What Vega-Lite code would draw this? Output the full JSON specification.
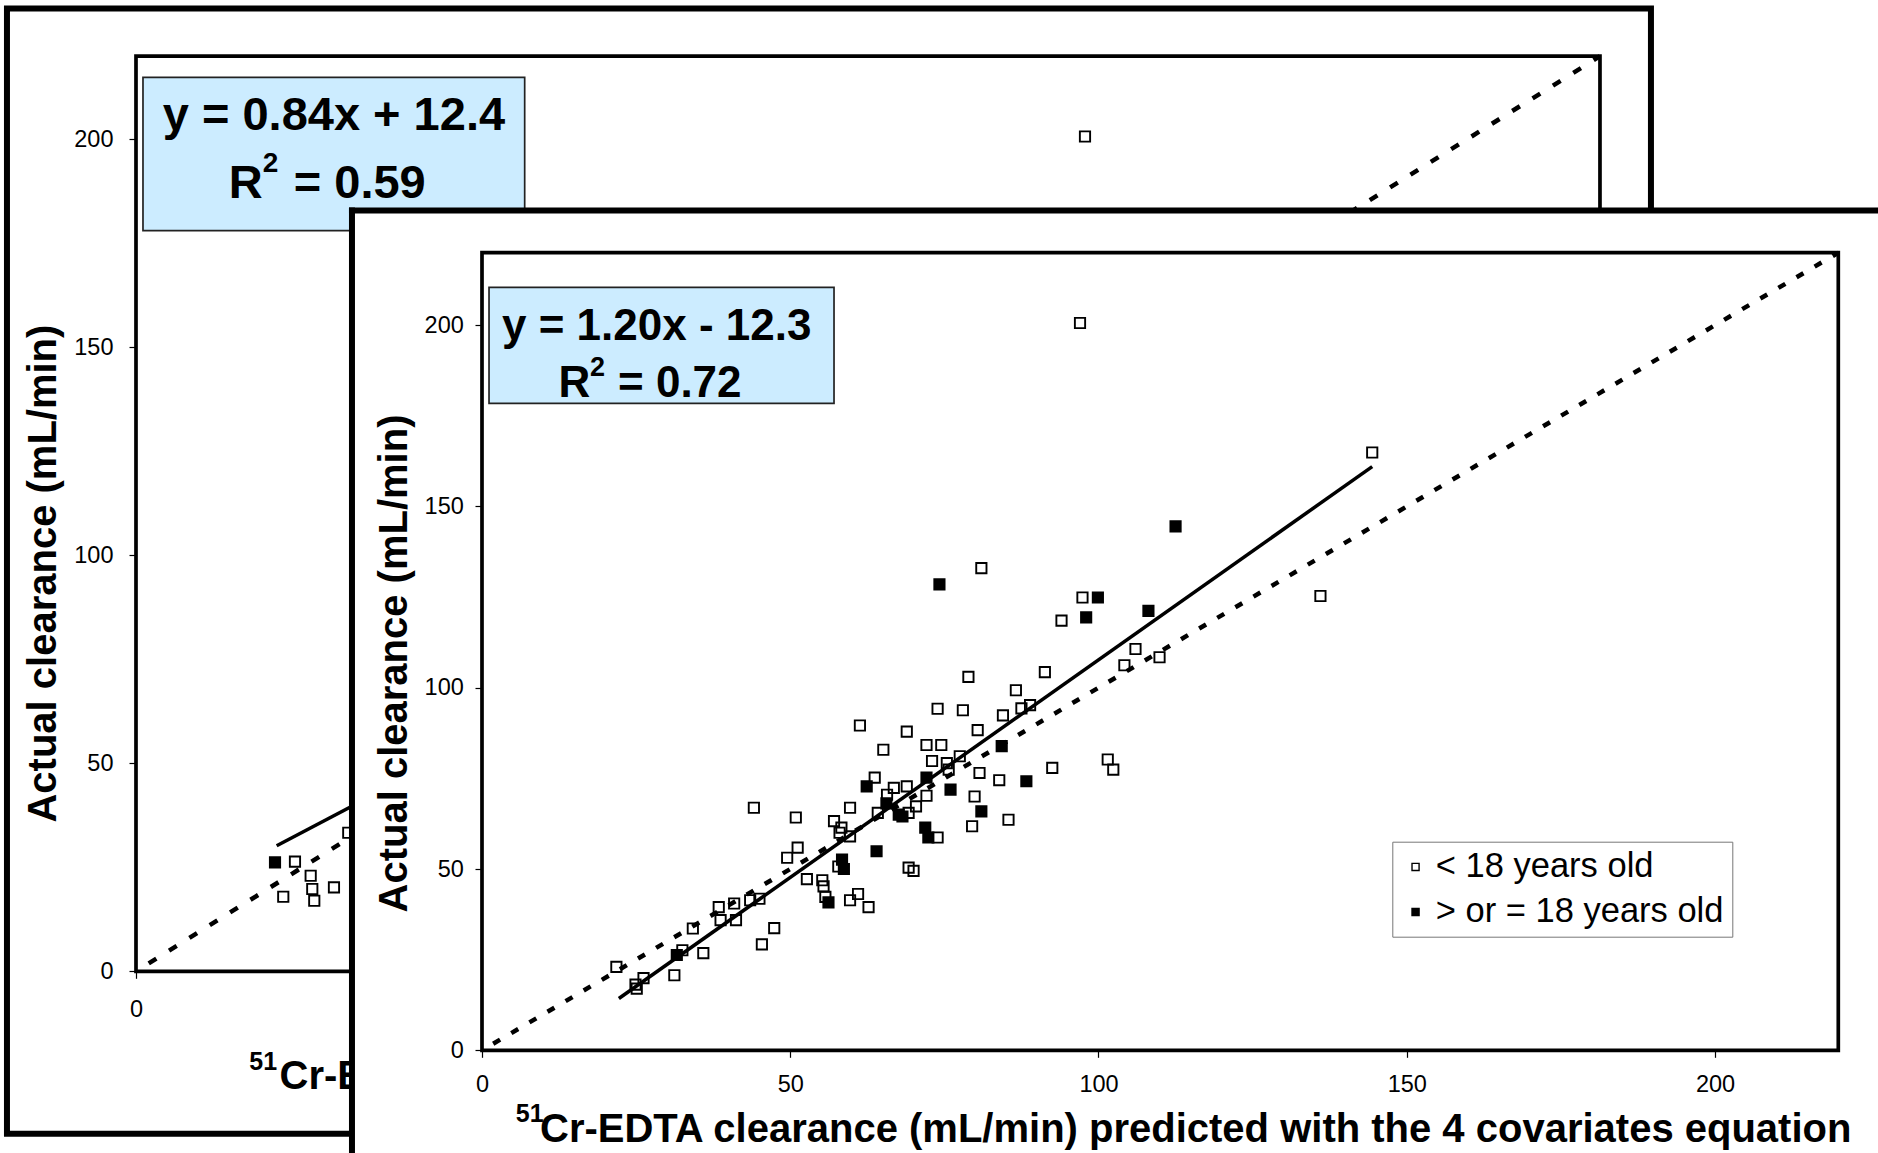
{
  "$schema": "https://vega.github.io/schema/vega-lite/v6.json",
  "background": "white",
  "padding": 0,
  "autosize": {"type": "none"},
  "width": 1878,
  "height": 1153,
  "resolve": {"scale": {"x": "independent", "y": "independent", "fill": "independent"}, "axis": {"x": "independent", "y": "independent"}, "legend": {"fill": "independent"}},
  "datasets": {
    "back_pts": [
      {"x": 20.89, "y": 26.2, "age": "> or = 18 years old"},
      {"x": 23.89, "y": 26.35, "age": "< 18 years old"},
      {"x": 22.13, "y": 17.93, "age": "< 18 years old"},
      {"x": 26.25, "y": 22.98, "age": "< 18 years old"},
      {"x": 26.49, "y": 19.79, "age": "< 18 years old"},
      {"x": 26.79, "y": 16.97, "age": "< 18 years old"},
      {"x": 29.75, "y": 20.19, "age": "< 18 years old"},
      {"x": 31.9, "y": 33.32, "age": "< 18 years old"},
      {"x": 142.61, "y": 200.7, "age": "< 18 years old"}
    ],
    "back_fit": [{"x": 21.14, "y": 30.2}, {"x": 165, "y": 151.0}],
    "front_fit": [{"x": 22.2, "y": 14.3}, {"x": 144.4, "y": 161.0}],
    "identity": [{"x": 0, "y": 0}, {"x": 220, "y": 220}],
    "front_pts": [
      {"x": 21.8, "y": 23.0, "age": "< 18 years old"},
      {"x": 24.9, "y": 18.1, "age": "< 18 years old"},
      {"x": 25.1, "y": 17.0, "age": "< 18 years old"},
      {"x": 26.2, "y": 19.9, "age": "< 18 years old"},
      {"x": 31.2, "y": 20.7, "age": "< 18 years old"},
      {"x": 32.5, "y": 27.6, "age": "< 18 years old"},
      {"x": 35.9, "y": 26.8, "age": "< 18 years old"},
      {"x": 34.2, "y": 33.6, "age": "< 18 years old"},
      {"x": 38.4, "y": 39.5, "age": "< 18 years old"},
      {"x": 38.7, "y": 35.9, "age": "< 18 years old"},
      {"x": 40.9, "y": 40.5, "age": "< 18 years old"},
      {"x": 41.2, "y": 35.9, "age": "< 18 years old"},
      {"x": 43.5, "y": 41.4, "age": "< 18 years old"},
      {"x": 45.0, "y": 41.8, "age": "< 18 years old"},
      {"x": 45.4, "y": 29.2, "age": "< 18 years old"},
      {"x": 47.4, "y": 33.7, "age": "< 18 years old"},
      {"x": 44.1, "y": 66.9, "age": "< 18 years old"},
      {"x": 50.9, "y": 64.2, "age": "< 18 years old"},
      {"x": 49.5, "y": 53.1, "age": "< 18 years old"},
      {"x": 51.2, "y": 55.9, "age": "< 18 years old"},
      {"x": 52.7, "y": 47.2, "age": "< 18 years old"},
      {"x": 55.2, "y": 46.9, "age": "< 18 years old"},
      {"x": 55.4, "y": 45.2, "age": "< 18 years old"},
      {"x": 55.7, "y": 42.3, "age": "< 18 years old"},
      {"x": 59.7, "y": 41.4, "age": "< 18 years old"},
      {"x": 61.0, "y": 43.1, "age": "< 18 years old"},
      {"x": 62.7, "y": 39.5, "age": "< 18 years old"},
      {"x": 57.1, "y": 63.2, "age": "< 18 years old"},
      {"x": 59.7, "y": 66.9, "age": "< 18 years old"},
      {"x": 58.3, "y": 61.4, "age": "< 18 years old"},
      {"x": 58.0, "y": 60.0, "age": "< 18 years old"},
      {"x": 59.7, "y": 59.0, "age": "< 18 years old"},
      {"x": 57.8, "y": 50.7, "age": "< 18 years old"},
      {"x": 69.2, "y": 50.4, "age": "< 18 years old"},
      {"x": 70.0, "y": 49.5, "age": "< 18 years old"},
      {"x": 73.9, "y": 58.7, "age": "< 18 years old"},
      {"x": 79.5, "y": 61.8, "age": "< 18 years old"},
      {"x": 85.4, "y": 63.6, "age": "< 18 years old"},
      {"x": 79.9, "y": 70.0, "age": "< 18 years old"},
      {"x": 72.1, "y": 70.2, "age": "< 18 years old"},
      {"x": 70.4, "y": 67.3, "age": "< 18 years old"},
      {"x": 69.2, "y": 65.5, "age": "< 18 years old"},
      {"x": 64.2, "y": 65.5, "age": "< 18 years old"},
      {"x": 65.7, "y": 70.5, "age": "< 18 years old"},
      {"x": 66.8, "y": 72.4, "age": "< 18 years old"},
      {"x": 68.9, "y": 72.8, "age": "< 18 years old"},
      {"x": 63.7, "y": 75.2, "age": "< 18 years old"},
      {"x": 83.9, "y": 74.5, "age": "< 18 years old"},
      {"x": 80.7, "y": 76.5, "age": "< 18 years old"},
      {"x": 73.0, "y": 79.8, "age": "< 18 years old"},
      {"x": 75.4, "y": 79.2, "age": "< 18 years old"},
      {"x": 75.7, "y": 77.4, "age": "< 18 years old"},
      {"x": 77.5, "y": 81.1, "age": "< 18 years old"},
      {"x": 92.5, "y": 77.9, "age": "< 18 years old"},
      {"x": 101.5, "y": 80.2, "age": "< 18 years old"},
      {"x": 102.4, "y": 77.4, "age": "< 18 years old"},
      {"x": 65.1, "y": 82.9, "age": "< 18 years old"},
      {"x": 72.1, "y": 84.2, "age": "< 18 years old"},
      {"x": 74.5, "y": 84.2, "age": "< 18 years old"},
      {"x": 68.9, "y": 87.9, "age": "< 18 years old"},
      {"x": 80.4, "y": 88.3, "age": "< 18 years old"},
      {"x": 61.3, "y": 89.6, "age": "< 18 years old"},
      {"x": 73.9, "y": 94.2, "age": "< 18 years old"},
      {"x": 78.0, "y": 93.8, "age": "< 18 years old"},
      {"x": 84.5, "y": 92.4, "age": "< 18 years old"},
      {"x": 87.5, "y": 94.3, "age": "< 18 years old"},
      {"x": 88.9, "y": 95.2, "age": "< 18 years old"},
      {"x": 78.9, "y": 103.0, "age": "< 18 years old"},
      {"x": 86.6, "y": 99.3, "age": "< 18 years old"},
      {"x": 91.3, "y": 104.3, "age": "< 18 years old"},
      {"x": 94.0, "y": 118.5, "age": "< 18 years old"},
      {"x": 97.4, "y": 124.9, "age": "< 18 years old"},
      {"x": 81.0, "y": 133.0, "age": "< 18 years old"},
      {"x": 104.2, "y": 106.2, "age": "< 18 years old"},
      {"x": 106.0, "y": 110.7, "age": "< 18 years old"},
      {"x": 109.9, "y": 108.4, "age": "< 18 years old"},
      {"x": 136.0, "y": 125.3, "age": "< 18 years old"},
      {"x": 144.4, "y": 164.9, "age": "< 18 years old"},
      {"x": 97.0, "y": 200.6, "age": "< 18 years old"},
      {"x": 31.6, "y": 26.3, "age": "> or = 18 years old"},
      {"x": 56.2, "y": 40.8, "age": "> or = 18 years old"},
      {"x": 58.4, "y": 52.6, "age": "> or = 18 years old"},
      {"x": 58.7, "y": 50.0, "age": "> or = 18 years old"},
      {"x": 64.0, "y": 54.9, "age": "> or = 18 years old"},
      {"x": 71.9, "y": 61.4, "age": "> or = 18 years old"},
      {"x": 72.4, "y": 58.7, "age": "> or = 18 years old"},
      {"x": 81.0, "y": 65.9, "age": "> or = 18 years old"},
      {"x": 76.0, "y": 71.9, "age": "> or = 18 years old"},
      {"x": 67.6, "y": 65.0, "age": "> or = 18 years old"},
      {"x": 68.2, "y": 64.5, "age": "> or = 18 years old"},
      {"x": 65.6, "y": 68.1, "age": "> or = 18 years old"},
      {"x": 62.4, "y": 72.8, "age": "> or = 18 years old"},
      {"x": 72.1, "y": 75.2, "age": "> or = 18 years old"},
      {"x": 88.3, "y": 74.2, "age": "> or = 18 years old"},
      {"x": 84.3, "y": 83.9, "age": "> or = 18 years old"},
      {"x": 98.0, "y": 119.4, "age": "> or = 18 years old"},
      {"x": 99.9, "y": 124.9, "age": "> or = 18 years old"},
      {"x": 108.1, "y": 121.2, "age": "> or = 18 years old"},
      {"x": 74.2, "y": 128.5, "age": "> or = 18 years old"},
      {"x": 112.5, "y": 144.5, "age": "> or = 18 years old"}
    ]
  },
  "layer": [
    {
      "data": {"values": [{}]},
      "mark": {"type": "rect", "fill": "transparent", "stroke": "black", "strokeWidth": 6},
      "encoding": {
        "x": {"datum": -19.39, "type": "quantitative", "scale": {"domain": [-20.437, 261.78], "nice": false, "zero": false}, "axis": null},
        "x2": {"datum": 227.66},
        "y": {"datum": 231.47, "type": "quantitative", "scale": {"domain": [-43.683, 233.51], "nice": false, "zero": false}, "axis": null},
        "y2": {"datum": -39.04}
      }
    },
    {
      "data": {"values": [{}]},
      "mark": {"type": "rect", "fill": "transparent", "stroke": "black", "strokeWidth": 3.7},
      "encoding": {
        "x": {"datum": 0, "type": "quantitative", "scale": {"domain": [-20.437, 261.78], "nice": false, "zero": false}, "axis": null},
        "x2": {"datum": 220},
        "y": {"datum": 0, "type": "quantitative", "scale": {"domain": [-43.683, 233.51], "nice": false, "zero": false}, "axis": null},
        "y2": {"datum": 220}
      }
    },
    {
      "data": {"name": "identity"},
      "mark": {"type": "line", "stroke": "black", "strokeWidth": 4.5, "strokeDash": [9, 15], "strokeDashOffset": 9},
      "encoding": {
        "x": {"field": "x", "type": "quantitative", "scale": {"domain": [-20.437, 261.78], "nice": false, "zero": false}, "axis": null},
        "y": {"field": "y", "type": "quantitative", "scale": {"domain": [-43.683, 233.51], "nice": false, "zero": false}, "axis": null}
      }
    },
    {
      "data": {"name": "back_fit"},
      "mark": {"type": "line", "stroke": "black", "strokeWidth": 3.5},
      "encoding": {
        "x": {"field": "x", "type": "quantitative", "scale": {"domain": [-20.437, 261.78], "nice": false, "zero": false}, "axis": null},
        "y": {"field": "y", "type": "quantitative", "scale": {"domain": [-43.683, 233.51], "nice": false, "zero": false}, "axis": null}
      }
    },
    {
      "data": {"values": [{}]},
      "mark": {"type": "rect", "fill": "#CCECFF", "stroke": "#222222", "strokeWidth": 1.7},
      "encoding": {
        "x": {"datum": 1.05, "type": "quantitative", "scale": {"domain": [-20.437, 261.78], "nice": false, "zero": false}, "axis": null},
        "x2": {"datum": 58.41},
        "y": {"datum": 214.93, "type": "quantitative", "scale": {"domain": [-43.683, 233.51], "nice": false, "zero": false}, "axis": null},
        "y2": {"datum": 178.05}
      }
    },
    {
      "data": {"values": [{"label": "y = 0.84x + 12.4"}]},
      "mark": {"type": "text", "font": "Liberation Sans", "fontSize": 47, "fontWeight": "bold", "align": "center", "baseline": "alphabetic", "color": "black"},
      "encoding": {
        "x": {"datum": 29.74, "type": "quantitative", "scale": {"domain": [-20.437, 261.78], "nice": false, "zero": false}, "axis": null},
        "y": {"datum": 202.26, "type": "quantitative", "scale": {"domain": [-43.683, 233.51], "nice": false, "zero": false}, "axis": null},
        "text": {"field": "label"}
      }
    },
    {
      "data": {"values": [{"label": "R"}]},
      "mark": {"type": "text", "font": "Liberation Sans", "fontSize": 47, "fontWeight": "bold", "align": "left", "baseline": "alphabetic", "color": "black"},
      "encoding": {
        "x": {"datum": 13.95, "type": "quantitative", "scale": {"domain": [-20.437, 261.78], "nice": false, "zero": false}, "axis": null},
        "y": {"datum": 185.84, "type": "quantitative", "scale": {"domain": [-43.683, 233.51], "nice": false, "zero": false}, "axis": null},
        "text": {"field": "label"}
      }
    },
    {
      "data": {"values": [{"label": "2"}]},
      "mark": {"type": "text", "font": "Liberation Sans", "fontSize": 28, "fontWeight": "bold", "align": "left", "baseline": "alphabetic", "color": "black"},
      "encoding": {
        "x": {"datum": 19.05, "type": "quantitative", "scale": {"domain": [-20.437, 261.78], "nice": false, "zero": false}, "axis": null},
        "y": {"datum": 192.1, "type": "quantitative", "scale": {"domain": [-43.683, 233.51], "nice": false, "zero": false}, "axis": null},
        "text": {"field": "label"}
      }
    },
    {
      "data": {"values": [{"label": "= 0.59"}]},
      "mark": {"type": "text", "font": "Liberation Sans", "fontSize": 47, "fontWeight": "bold", "align": "left", "baseline": "alphabetic", "color": "black"},
      "encoding": {
        "x": {"datum": 23.71, "type": "quantitative", "scale": {"domain": [-20.437, 261.78], "nice": false, "zero": false}, "axis": null},
        "y": {"datum": 185.84, "type": "quantitative", "scale": {"domain": [-43.683, 233.51], "nice": false, "zero": false}, "axis": null},
        "text": {"field": "label"}
      }
    },
    {
      "data": {"values": [{"label": "51"}]},
      "mark": {"type": "text", "font": "Liberation Sans", "fontSize": 25, "fontWeight": "bold", "align": "left", "baseline": "alphabetic", "color": "black"},
      "encoding": {
        "x": {"datum": 17.03, "type": "quantitative", "scale": {"domain": [-20.437, 261.78], "nice": false, "zero": false}, "axis": null},
        "y": {"datum": -23.73, "type": "quantitative", "scale": {"domain": [-43.683, 233.51], "nice": false, "zero": false}, "axis": null},
        "text": {"field": "label"}
      }
    },
    {
      "data": {"name": "back_pts"},
      "mark": {"type": "square", "size": 105, "stroke": "black", "strokeWidth": 1.9, "opacity": 1, "fillOpacity": 1},
      "encoding": {
        "x": {"field": "x", "type": "quantitative", "scale": {"domain": [-20.437, 261.78], "nice": false, "zero": false},
          "axis": {"orient": "bottom", "offset": -181.7, "zindex": 0, "values": [0, 50, 100, 150, 200], "title": "Cr-EDTA clearance (mL/min)", "titleAlign": "left", "titleAngle": 0, "titleBaseline": "alphabetic", "titleX": 279, "titleY": 116.7, "labelBaseline": "alphabetic", "labelPadding": 38.4}},
        "y": {"field": "y", "type": "quantitative", "scale": {"domain": [-43.683, 233.51], "nice": false, "zero": false},
          "axis": {"orient": "left", "offset": -136, "zindex": 0, "values": [0, 50, 100, 150, 200], "title": "Actual clearance (mL/min)", "titleAlign": "center", "titleAngle": 270, "titleBaseline": "alphabetic", "titleX": -81, "titleY": 573.1, "labelPadding": 16, "labelBaseline": "middle"}},
        "fill": {"field": "age", "type": "nominal", "scale": {"domain": ["< 18 years old", "> or = 18 years old"], "range": ["transparent", "black"]}, "legend": null}
      }
    },
    {
      "data": {"values": [{}]},
      "mark": {"type": "rect", "fill": "white", "strokeWidth": 0},
      "encoding": {
        "x": {"datum": -21.09, "type": "quantitative", "scale": {"domain": [-78.183, 226.44], "nice": false, "zero": false}, "axis": null},
        "x2": {"datum": 240},
        "y": {"datum": 231.63, "type": "quantitative", "scale": {"domain": [-28.327, 289.698], "nice": false, "zero": false}, "axis": null},
        "y2": {"datum": -40}
      }
    },
    {
      "data": {"values": [{}]},
      "mark": {"type": "rule", "stroke": "black", "strokeWidth": 6, "strokeCap": "square"},
      "encoding": {
        "x": {"datum": -21.09, "type": "quantitative", "scale": {"domain": [-78.183, 226.44], "nice": false, "zero": false}, "axis": null},
        "x2": {"datum": 240},
        "y": {"datum": 231.63, "type": "quantitative", "scale": {"domain": [-28.327, 289.698], "nice": false, "zero": false}, "axis": null}
      }
    },
    {
      "data": {"values": [{}]},
      "mark": {"type": "rule", "stroke": "black", "strokeWidth": 6, "strokeCap": "square"},
      "encoding": {
        "x": {"datum": -21.09, "type": "quantitative", "scale": {"domain": [-78.183, 226.44], "nice": false, "zero": false}, "axis": null},
        "y": {"datum": 231.63, "type": "quantitative", "scale": {"domain": [-28.327, 289.698], "nice": false, "zero": false}, "axis": null},
        "y2": {"datum": -40}
      }
    },
    {
      "data": {"values": [{}]},
      "mark": {"type": "rect", "fill": "transparent", "stroke": "black", "strokeWidth": 3.7},
      "encoding": {
        "x": {"datum": 0, "type": "quantitative", "scale": {"domain": [-78.183, 226.44], "nice": false, "zero": false}, "axis": null},
        "x2": {"datum": 220},
        "y": {"datum": 0, "type": "quantitative", "scale": {"domain": [-28.327, 289.698], "nice": false, "zero": false}, "axis": null},
        "y2": {"datum": 220}
      }
    },
    {
      "data": {"name": "identity"},
      "mark": {"type": "line", "stroke": "black", "strokeWidth": 4.5, "strokeDash": [8, 13], "strokeDashOffset": 8},
      "encoding": {
        "x": {"field": "x", "type": "quantitative", "scale": {"domain": [-78.183, 226.44], "nice": false, "zero": false}, "axis": null},
        "y": {"field": "y", "type": "quantitative", "scale": {"domain": [-28.327, 289.698], "nice": false, "zero": false}, "axis": null}
      }
    },
    {
      "data": {"name": "front_fit"},
      "mark": {"type": "line", "stroke": "black", "strokeWidth": 3.5},
      "encoding": {
        "x": {"field": "x", "type": "quantitative", "scale": {"domain": [-78.183, 226.44], "nice": false, "zero": false}, "axis": null},
        "y": {"field": "y", "type": "quantitative", "scale": {"domain": [-28.327, 289.698], "nice": false, "zero": false}, "axis": null}
      }
    },
    {
      "data": {"values": [{}]},
      "mark": {"type": "rect", "fill": "#CCECFF", "stroke": "#222222", "strokeWidth": 1.7},
      "encoding": {
        "x": {"datum": 1.14, "type": "quantitative", "scale": {"domain": [-78.183, 226.44], "nice": false, "zero": false}, "axis": null},
        "x2": {"datum": 57.1},
        "y": {"datum": 210.45, "type": "quantitative", "scale": {"domain": [-28.327, 289.698], "nice": false, "zero": false}, "axis": null},
        "y2": {"datum": 178.46}
      }
    },
    {
      "data": {"values": [{"label": "y = 1.20x - 12.3"}]},
      "mark": {"type": "text", "font": "Liberation Sans", "fontSize": 44, "fontWeight": "bold", "align": "center", "baseline": "alphabetic", "color": "black"},
      "encoding": {
        "x": {"datum": 28.34, "type": "quantitative", "scale": {"domain": [-78.183, 226.44], "nice": false, "zero": false}, "axis": null},
        "y": {"datum": 195.92, "type": "quantitative", "scale": {"domain": [-28.327, 289.698], "nice": false, "zero": false}, "axis": null},
        "text": {"field": "label"}
      }
    },
    {
      "data": {"values": [{"label": "R"}]},
      "mark": {"type": "text", "font": "Liberation Sans", "fontSize": 44, "fontWeight": "bold", "align": "left", "baseline": "alphabetic", "color": "black"},
      "encoding": {
        "x": {"datum": 12.39, "type": "quantitative", "scale": {"domain": [-78.183, 226.44], "nice": false, "zero": false}, "axis": null},
        "y": {"datum": 180.28, "type": "quantitative", "scale": {"domain": [-28.327, 289.698], "nice": false, "zero": false}, "axis": null},
        "text": {"field": "label"}
      }
    },
    {
      "data": {"values": [{"label": "2"}]},
      "mark": {"type": "text", "font": "Liberation Sans", "fontSize": 27, "fontWeight": "bold", "align": "left", "baseline": "alphabetic", "color": "black"},
      "encoding": {
        "x": {"datum": 17.52, "type": "quantitative", "scale": {"domain": [-78.183, 226.44], "nice": false, "zero": false}, "axis": null},
        "y": {"datum": 186.0, "type": "quantitative", "scale": {"domain": [-28.327, 289.698], "nice": false, "zero": false}, "axis": null},
        "text": {"field": "label"}
      }
    },
    {
      "data": {"values": [{"label": "= 0.72"}]},
      "mark": {"type": "text", "font": "Liberation Sans", "fontSize": 44, "fontWeight": "bold", "align": "left", "baseline": "alphabetic", "color": "black"},
      "encoding": {
        "x": {"datum": 22.06, "type": "quantitative", "scale": {"domain": [-78.183, 226.44], "nice": false, "zero": false}, "axis": null},
        "y": {"datum": 180.28, "type": "quantitative", "scale": {"domain": [-28.327, 289.698], "nice": false, "zero": false}, "axis": null},
        "text": {"field": "label"}
      }
    },
    {
      "data": {"values": [{"label": "51"}]},
      "mark": {"type": "text", "font": "Liberation Sans", "fontSize": 25, "fontWeight": "bold", "align": "left", "baseline": "alphabetic", "color": "black"},
      "encoding": {
        "x": {"datum": 5.48, "type": "quantitative", "scale": {"domain": [-78.183, 226.44], "nice": false, "zero": false}, "axis": null},
        "y": {"datum": -19.69, "type": "quantitative", "scale": {"domain": [-28.327, 289.698], "nice": false, "zero": false}, "axis": null},
        "text": {"field": "label"}
      }
    },
    {
      "data": {"name": "front_pts"},
      "mark": {"type": "square", "size": 105, "stroke": "black", "strokeWidth": 1.9, "opacity": 1, "fillOpacity": 1},
      "encoding": {
        "x": {"field": "x", "type": "quantitative", "scale": {"domain": [-78.183, 226.44], "nice": false, "zero": false},
          "axis": {"orient": "bottom", "offset": -102.7, "zindex": 1, "values": [0, 50, 100, 150, 200], "title": "Cr-EDTA clearance (mL/min) predicted with the 4 covariates equation", "titleAlign": "left", "titleAngle": 0, "titleBaseline": "alphabetic", "titleX": 539.5, "titleY": 91.4, "labelBaseline": "alphabetic", "labelPadding": 34.4}},
        "y": {"field": "y", "type": "quantitative", "scale": {"domain": [-28.327, 289.698], "nice": false, "zero": false},
          "axis": {"orient": "left", "offset": -482, "zindex": 1, "values": [0, 50, 100, 150, 200], "title": "Actual clearance (mL/min)", "titleAlign": "center", "titleAngle": 270, "titleBaseline": "alphabetic", "titleX": -75.4, "titleY": 663, "labelPadding": 11.7, "labelBaseline": "middle"}},
        "fill": {"field": "age", "type": "nominal", "scale": {"domain": ["< 18 years old", "> or = 18 years old"], "range": ["transparent", "black"]},
          "legend": {"orient": "none", "legendX": 1392.3, "legendY": 841.7, "title": null, "symbolType": "square", "symbolSize": 50, "symbolStrokeColor": "black", "symbolStrokeWidth": 1.4, "labelFontSize": 34.5, "labelFont": "Liberation Sans", "labelColor": "black", "labelLimit": 600, "padding": 8, "rowPadding": 10, "symbolOffset": -2, "labelOffset": 3, "strokeColor": "#777777", "fillColor": "white"}}
      }
    }
  ],
  "config": {
    "view": {"stroke": null},
    "font": "Liberation Sans",
    "axis": {
      "grid": false,
      "domain": false,
      "ticks": true,
      "tickColor": "black",
      "tickSize": 7,
      "tickWidth": 1.2,
      "labelFont": "Liberation Sans",
      "labelFontSize": 23.5,
      "labelColor": "black",
      "labelFlush": false,
      "labelOverlap": false,
      "titleFont": "Liberation Sans",
      "titleFontSize": 40,
      "titleFontWeight": "bold",
      "titleColor": "black"
    }
  }
}
